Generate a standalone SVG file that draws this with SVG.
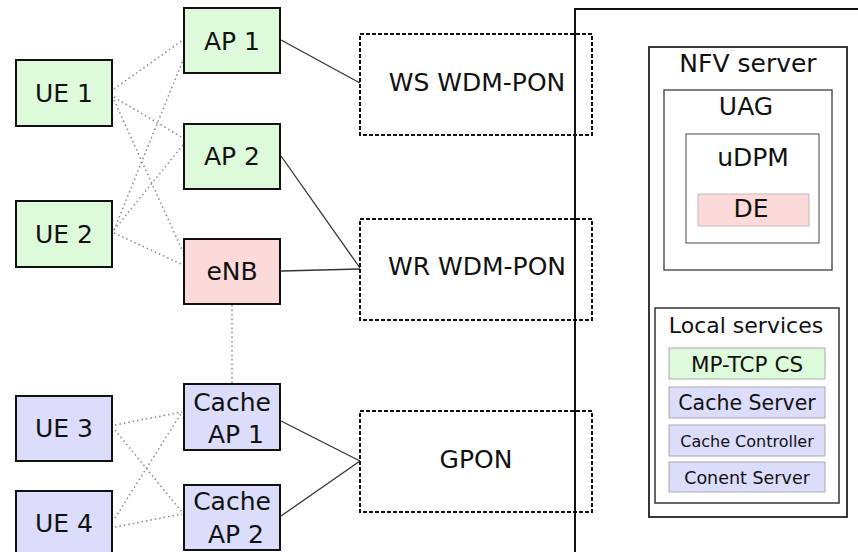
<svg xmlns="http://www.w3.org/2000/svg" width="858" height="552" viewBox="0 0 858 552">
<style>
text{font-family:"DejaVu Sans","Liberation Sans",sans-serif;fill:#111;text-anchor:middle}
.t{font-size:25px}
.node{stroke:#111;stroke-width:2}
.g{fill:#ddfbdb}.p{fill:#fddada}.b{fill:#dcdcfb}
.pon{fill:none;stroke:#111;stroke-width:2;stroke-dasharray:4,2}
.solid{stroke:#333;stroke-width:1.3;fill:none}
.dot{stroke:#888;stroke-width:1.5;stroke-dasharray:1.5,3;fill:none}
</style>
<rect width="858" height="552" fill="#fff"/>
<g id="core">
<rect x="575" y="9" width="300" height="600" fill="none" stroke="#111" stroke-width="2"/>
</g>
<g id="connectors">
<line class="solid" x1="281" y1="40" x2="360" y2="83"/>
<line class="solid" x1="281" y1="156" x2="360" y2="268"/>
<line class="solid" x1="281" y1="271" x2="360" y2="269"/>
<line class="solid" x1="281" y1="421" x2="360" y2="461"/>
<line class="solid" x1="281" y1="516" x2="360" y2="461"/>
<line class="dot" x1="114" y1="89" x2="183" y2="40"/>
<line class="dot" x1="114" y1="97" x2="183" y2="138"/>
<line class="dot" x1="114" y1="100" x2="183" y2="252"/>
<line class="dot" x1="114" y1="230" x2="183" y2="60"/>
<line class="dot" x1="114" y1="230" x2="183" y2="145"/>
<line class="dot" x1="114" y1="233" x2="181" y2="264"/>
<line class="dot" x1="232" y1="305" x2="232" y2="384"/>
<line class="dot" x1="115" y1="425" x2="182" y2="412"/>
<line class="dot" x1="115" y1="430" x2="182" y2="512"/>
<line class="dot" x1="115" y1="518" x2="182" y2="412"/>
<line class="dot" x1="115" y1="527" x2="182" y2="514"/>
</g>
<g id="ue1"><rect class="node g" x="16" y="60" width="96" height="66"/><text class="t" x="64" y="102">UE 1</text></g>
<g id="ue2"><rect class="node g" x="16" y="201" width="96" height="66"/><text class="t" x="64" y="243">UE 2</text></g>
<g id="ue3"><rect class="node b" x="16" y="396" width="96" height="65"/><text class="t" x="64" y="437">UE 3</text></g>
<g id="ue4"><rect class="node b" x="16" y="491" width="96" height="66"/><text class="t" x="64" y="532">UE 4</text></g>
<g id="ap1"><rect class="node g" x="184" y="8" width="96" height="65"/><text class="t" x="232" y="50">AP 1</text></g>
<g id="ap2"><rect class="node g" x="184" y="124" width="96" height="65"/><text class="t" x="232" y="165">AP 2</text></g>
<g id="enb"><rect class="node p" x="184" y="239" width="96" height="65"/><text class="t" x="232" y="280">eNB</text></g>
<g id="cacheap1"><rect class="node b" x="184" y="384" width="96" height="66"/><text class="t" x="232" y="411">Cache</text><text class="t" x="236" y="443">AP 1</text></g>
<g id="cacheap2"><rect class="node b" x="184" y="485" width="96" height="65"/><text class="t" x="232" y="510">Cache</text><text class="t" x="236" y="543">AP 2</text></g>
<g id="ws"><rect class="pon" x="360" y="34" width="232" height="101"/><text class="t" x="477" y="91">WS WDM-PON</text></g>
<g id="wr"><rect class="pon" x="360" y="219" width="232" height="101"/><text class="t" x="477" y="275">WR WDM-PON</text></g>
<g id="gpon"><rect class="pon" x="360" y="411" width="232" height="101"/><text class="t" x="476" y="468">GPON</text></g>
<g id="nfv">
<rect x="649" y="47" width="198" height="470" fill="none" stroke="#222" stroke-width="1.8"/>
<text class="t" x="748" y="72">NFV server</text>
</g>
<g id="uag">
<rect x="664" y="90" width="168" height="180" fill="none" stroke="#555" stroke-width="1.5"/>
<text class="t" x="746" y="115">UAG</text>
</g>
<g id="udpm">
<rect x="686" y="134" width="133" height="109" fill="none" stroke="#666" stroke-width="1.2"/>
<text class="t" x="753" y="166">uDPM</text>
</g>
<g id="de">
<rect x="698" y="194" width="111" height="32" fill="#fddada" stroke="#bbb" stroke-width="1"/>
<text class="t" x="751" y="217">DE</text>
</g>
<g id="local">
<rect x="655" y="308" width="184" height="195" fill="none" stroke="#333" stroke-width="1.5"/>
<text x="746" y="333" font-size="22">Local services</text>
</g>
<g id="mptcp">
<rect x="669" y="348" width="156" height="31" fill="#ddfbdb" stroke="#aaa" stroke-width="1"/>
<text x="747" y="372" font-size="21.5">MP-TCP CS</text>
</g>
<g id="cacheserver">
<rect x="669" y="387" width="156" height="31" fill="#dcdcfb" stroke="#aaa" stroke-width="1"/>
<text x="747" y="410" font-size="20.5">Cache Server</text>
</g>
<g id="cachecontroller">
<rect x="669" y="425" width="156" height="31" fill="#dcdcfb" stroke="#aaa" stroke-width="1"/>
<text x="747" y="447" font-size="16">Cache Controller</text>
</g>
<g id="contentserver">
<rect x="669" y="462" width="156" height="30" fill="#dcdcfb" stroke="#aaa" stroke-width="1"/>
<text x="747" y="484" font-size="17.5">Conent Server</text>
</g>
</svg>
